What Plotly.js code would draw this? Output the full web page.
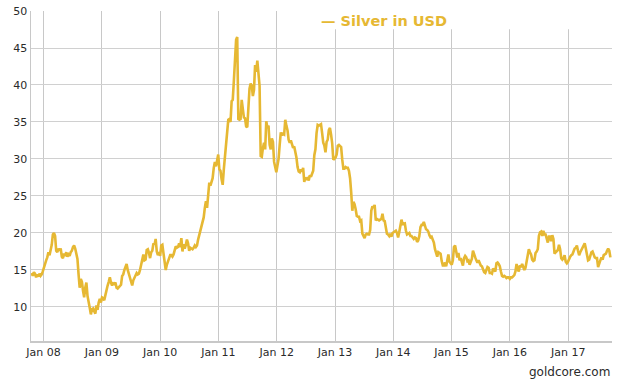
<!DOCTYPE html>
<html>
<head>
<meta charset="utf-8">
<script src="https://cdn.plot.ly/plotly-3.0.1.min.js"></script>
<style>html,body{margin:0;padding:0;background:#fff;}#chart{width:630px;height:388px;}</style>
</head>
<body>
<div id="chart"></div>
<script>
// Weekly silver price (USD/oz)
const dates2007 = ["10-19","10-26","11-02","11-09","11-16","11-23","11-30","12-07","12-14","12-21","12-28"];
const silver2007 = [14.6,14.2,14.7,14.5,14.0,14.4,14.1,14.5,14.2,14.4,14.8];

const dates2008 = ["01-04","01-11","01-18","01-25","02-01","02-08","02-15","02-22","02-29","03-07","03-14","03-21","03-28",
  "04-04","04-11","04-18","04-25","05-02","05-09","05-16","05-23","05-30","06-06","06-13","06-20","06-27",
  "07-04","07-11","07-18","07-25","08-01","08-08","08-15","08-22","08-29","09-05","09-12","09-19","09-26",
  "10-03","10-10","10-17","10-24","10-31","11-07","11-14","11-21","11-28","12-05","12-12","12-19","12-26"];
const silver2008 = [15.4,16.0,16.3,16.7, 17.4,17.0,17.6,18.4,19.8, 20.0,19.6,17.6,17.4,
  17.9,17.6,17.9,16.8, 16.6,17.2,16.9,17.4,16.8, 17.1,16.9,17.4,17.6,
  18.1,18.3,17.9,17.2, 16.5,14.4,12.6,13.8,13.4, 12.2,11.3,12.6,13.3,
  11.5,10.3,9.9,9.0,9.7, 9.8,9.3,9.1,10.2, 9.6,10.6,11.1,10.6];

const dates2009 = ["01-02","01-09","01-16","01-23","01-30","02-06","02-13","02-20","02-27","03-06","03-13","03-20","03-27",
  "04-03","04-10","04-17","04-24","05-01","05-08","05-15","05-22","05-29","06-05","06-12","06-19","06-26",
  "07-03","07-10","07-17","07-24","07-31","08-07","08-14","08-21","08-28","09-04","09-11","09-18","09-25",
  "10-02","10-09","10-16","10-23","10-30","11-06","11-13","11-20","11-27","12-04","12-11","12-18","12-25"];
const silver2009 = [11.3,11.2,10.9,11.6,12.5, 12.9,13.4,14.0,13.3, 12.9,13.2,13.1,13.3,
  12.6,12.5,12.7,12.9, 13.0,14.2,14.4,15.0,15.6, 15.8,15.0,14.5,14.0,
  13.7,12.9,13.6,13.9,14.1, 14.6,14.4,14.5,15.0, 15.9,16.6,17.1,16.3,
  16.4,17.7,17.8,17.3,16.6, 17.4,17.6,18.6,18.4, 19.2,17.5,17.0,17.4];

const dates2010 = ["01-01","01-08","01-15","01-22","01-29","02-05","02-12","02-19","02-26","03-05","03-12","03-19","03-26",
  "04-02","04-09","04-16","04-23","04-30","05-07","05-14","05-21","05-28","06-04","06-11","06-18","06-25",
  "07-02","07-09","07-16","07-23","07-30","08-06","08-13","08-20","08-27","09-03","09-10","09-17","09-24",
  "10-01","10-08","10-15","10-22","10-29","11-05","11-12","11-19","11-26","12-03","12-10","12-17","12-24","12-31"];
const silver2010 = [16.9,18.3,18.4,17.2,16.2, 15.0,15.7,16.1,16.5, 17.0,17.0,16.8,17.1,
  17.8,18.2,18.0,18.1,18.6, 18.1,19.3,17.5,18.5, 17.9,18.4,19.1,18.6,
  17.6,18.0,17.9,17.8,18.0, 18.3,18.1,18.3,19.1, 19.7,19.9,20.7,21.5,
  22.1,23.4,24.3,23.4,24.7, 26.8,26.4,27.0,27.4, 28.8,29.6,29.0,29.6,30.6];

const dates2011 = ["01-07","01-14","01-21","01-28","02-04","02-11","02-18","02-25","03-04","03-11","03-18","03-25",
  "04-01","04-08","04-15","04-22","04-29","05-06","05-13","05-20","05-27","06-03","06-10","06-17","06-24",
  "07-01","07-08","07-15","07-22","07-29","08-05","08-12","08-19","08-26","09-02","09-09","09-16","09-23","09-30",
  "10-07","10-14","10-21","10-28","11-04","11-11","11-18","11-25","12-02","12-09","12-16","12-23","12-30"];
const silver2011 = [28.6,28.4,27.3,26.5, 28.6,30.3,32.4,33.0, 35.3,35.4,35.0,37.8,
  38.0,40.6,42.8,46.1,46.5, 35.4,35.3,35.4,38.0, 36.5,35.6,35.5,34.4,
  34.3,36.7,39.5,40.2,39.9, 38.5,39.3,42.7,41.8, 43.3,40.9,39.9,30.4,30.3,
  31.5,32.2,31.3,35.1, 34.2,34.5,31.9,31.3, 32.8,32.3,29.6,29.0,28.2];

const dates2012 = ["01-06","01-13","01-20","01-27","02-03","02-10","02-17","02-24","03-02","03-09","03-16","03-23","03-30",
  "04-06","04-13","04-20","04-27","05-04","05-11","05-18","05-25","06-01","06-08","06-15","06-22","06-29",
  "07-06","07-13","07-20","07-27","08-03","08-10","08-17","08-24","08-31","09-07","09-14","09-21","09-28",
  "10-05","10-12","10-19","10-26","11-02","11-09","11-16","11-23","11-30","12-07","12-14","12-21","12-28"];
const silver2012 = [29.1,30.0,31.9,33.6, 33.2,33.4,33.3,35.3, 34.5,33.9,32.6,32.2,32.5,
  31.9,31.5,31.7,31.1, 30.2,28.9,28.3,28.2, 28.6,28.3,28.8,26.9,27.5,
  27.3,27.4,27.1,27.8, 27.6,28.0,28.4,30.5,31.3, 33.5,34.6,34.5,34.6,
  34.7,33.5,32.2,31.8, 30.9,32.3,32.6,33.9,34.2, 33.3,32.1,29.9,30.0];

const dates2013 = ["01-04","01-11","01-18","01-25","02-01","02-08","02-15","02-22","03-01","03-08","03-15","03-22","03-29",
  "04-05","04-12","04-19","04-26","05-03","05-10","05-17","05-24","05-31","06-07","06-14","06-21","06-28",
  "07-05","07-12","07-19","07-26","08-02","08-09","08-16","08-23","08-30","09-06","09-13","09-20","09-27",
  "10-04","10-11","10-18","10-25","11-01","11-08","11-15","11-22","11-29","12-06","12-13","12-20","12-27"];
const silver2013 = [30.2,30.6,31.8,31.9, 31.7,31.6,29.9,28.7, 28.7,28.9,28.8,28.8,28.4,
  27.4,25.5,23.0,24.2, 23.9,23.2,22.3,22.2,22.2, 21.6,21.7,19.9,19.6,
  19.3,19.8,19.9,19.8, 19.8,20.4,23.0,23.6,23.4, 23.8,21.7,21.9,21.8,
  21.7,21.8,21.9,22.6, 21.7,21.6,20.6,19.9,19.8, 19.6,19.9,19.5,20.0];

const dates2014 = ["01-03","01-10","01-17","01-24","01-31","02-07","02-14","02-21","02-28","03-07","03-14","03-21","03-28",
  "04-04","04-11","04-18","04-25","05-02","05-09","05-16","05-23","05-30","06-06","06-13","06-20","06-27",
  "07-04","07-11","07-18","07-25","08-01","08-08","08-15","08-22","08-29","09-05","09-12","09-19","09-26",
  "10-03","10-10","10-17","10-24","10-31","11-07","11-14","11-21","11-28","12-05","12-12","12-19","12-26"];
const silver2014 = [20.1,20.3,20.3,20.0,19.4, 20.1,21.3,21.8,21.2, 21.2,21.3,20.3,19.8,
  19.9,20.0,19.6,19.6, 19.4,19.2,19.4,19.3,18.8, 19.0,19.6,20.8,21.1,
  21.1,21.5,20.8,20.5, 20.4,20.2,19.7,19.4,19.5, 19.2,18.7,17.8,17.3,
  16.8,17.4,17.3,17.2,16.2, 15.6,15.6,16.0,15.5, 16.4,17.1,16.1,15.8];

const dates2015 = ["01-02","01-09","01-16","01-23","01-30","02-06","02-13","02-20","02-27","03-06","03-13","03-20","03-27",
  "04-03","04-10","04-17","04-24","05-01","05-08","05-15","05-22","05-29","06-05","06-12","06-19","06-26",
  "07-03","07-10","07-17","07-24","07-31","08-07","08-14","08-21","08-28","09-04","09-11","09-18","09-25",
  "10-02","10-09","10-16","10-23","10-30","11-06","11-13","11-20","11-27","12-04","12-11","12-18","12-25"];
const silver2015 = [15.7,16.3,18.1,18.3,17.2, 16.7,17.3,16.3,16.6, 16.0,15.6,16.6,16.9,
  16.7,16.2,16.3,15.7, 16.1,16.5,17.6,17.0,16.7, 16.3,16.0,16.3,15.9,
  15.6,15.5,14.9,14.7,14.6, 14.9,15.4,15.3,14.6, 14.6,14.5,15.2,15.0,
  14.8,15.9,16.0,15.8,15.5, 14.8,14.2,14.1,14.2, 14.1,13.9,14.0,14.0];

const dates2016 = ["01-01","01-08","01-15","01-22","01-29","02-05","02-12","02-19","02-26","03-04","03-11","03-18","03-25",
  "04-01","04-08","04-15","04-22","04-29","05-06","05-13","05-20","05-27","06-03","06-10","06-17","06-24",
  "07-01","07-08","07-15","07-22","07-29","08-05","08-12","08-19","08-26","09-02","09-09","09-16","09-23","09-30",
  "10-07","10-14","10-21","10-28","11-04","11-11","11-18","11-25","12-02","12-09","12-16","12-23","12-30"];
const silver2016 = [13.8,14.0,14.0,14.1,14.3, 14.8,15.8,15.2,14.8, 15.6,15.4,15.8,15.2,
  15.0,15.3,16.2,17.0,17.8, 17.4,17.1,16.4,16.2, 16.3,17.3,17.5,17.8,
  19.6,20.1,20.2,19.6,20.3, 19.8,19.8,19.1,18.7, 19.5,19.5,18.9,19.7,19.2,
  17.2,17.4,17.5,17.7, 18.4,17.8,16.6,16.4, 16.6,17.0,16.1,15.9,16.1];

const dates2017 = ["01-06","01-13","01-20","01-27","02-03","02-10","02-17","02-24","03-03","03-10","03-17","03-24","03-31",
  "04-07","04-14","04-21","04-28","05-05","05-12","05-19","05-26","06-02","06-09","06-16","06-23","06-30",
  "07-07","07-14","07-21","07-28","08-04","08-11","08-18","08-25","09-01","09-08","09-15","09-22"];
const silver2017 = [16.5,16.8,17.0,17.1, 17.5,17.9,18.0,18.3, 17.6,17.0,17.4,17.7,18.2,
  18.4,18.6,17.9,17.2, 16.3,16.4,16.9,17.4, 17.5,17.1,16.7,16.6,16.6,
  15.4,16.0,16.3,16.7, 16.4,17.0,17.1,17.2, 17.6,17.9,17.6,16.7];

const years = [2007,2008,2009,2010,2011,2012,2013,2014,2015,2016,2017];
const dateSets = [dates2007,dates2008,dates2009,dates2010,dates2011,dates2012,dates2013,dates2014,dates2015,dates2016,dates2017];
const valueSets = [silver2007,silver2008,silver2009,silver2010,silver2011,silver2012,silver2013,silver2014,silver2015,silver2016,silver2017];

const xTickVals = ["2008-01-01","2009-01-01","2010-01-01","2011-01-01","2012-01-01","2013-01-01","2014-01-01","2015-01-01","2016-01-01","2017-01-01"];
const xTickText = ["Jan 08","Jan 09","Jan 10","Jan 11","Jan 12","Jan 13","Jan 14","Jan 15","Jan 16","Jan 17"];
const yTickVals = [10,15,20,25,30,35,40,45,50];
const seriesName = "Silver in USD";

const x = [], y = [];
years.forEach((yr, i) => {
  const d = dateSets[i], v = valueSets[i];
  if (d.length !== v.length) console.error("length mismatch", yr, d.length, v.length);
  for (let k = 0; k < Math.min(d.length, v.length); k++) { x.push(yr + "-" + d[k]); y.push(v[k]); }
});

const gold = "#e6b833";
const font = "DejaVu Sans, Verdana, sans-serif";

Plotly.newPlot("chart", [{
  type: "scatter", mode: "lines", name: seriesName, x: x, y: y,
  line: {color: gold, width: 2.6}, hoverinfo: "x+y"
}], {
  width: 630, height: 388,
  margin: {l: 31, r: 18, t: 11, b: 47, pad: 0},
  paper_bgcolor: "#ffffff", plot_bgcolor: "#ffffff",
  showlegend: false,
  xaxis: {
    type: "date", range: ["2007-10-15", "2017-10-02"],
    tickmode: "array", tickvals: xTickVals, ticktext: xTickText,
    showgrid: true, gridcolor: "#c8c8c8", gridwidth: 1,
    showline: true, linecolor: "#c8c8c8", linewidth: 1.5,
    ticks: "", zeroline: false,
    tickfont: {family: font, size: 11, color: "#2a2a2a"}
  },
  yaxis: {
    range: [5.4, 50], tickmode: "array", tickvals: yTickVals,
    showgrid: true, gridcolor: "#d0d0d0", gridwidth: 1,
    showline: true, linecolor: "#c8c8c8", linewidth: 1.5,
    ticks: "", zeroline: false,
    tickfont: {family: font, size: 11, color: "#2a2a2a"}
  },
  shapes: [{
    type: "rect", xref: "paper", yref: "paper",
    x0: 0.496, x1: 0.994, y0: 0.945, y1: 1.05,
    fillcolor: "#ffffff", line: {width: 0}, layer: "above"
  }],
  annotations: [
    {xref: "paper", yref: "paper", x: 0.496, y: 0.97, xanchor: "left", yanchor: "middle",
     text: "<b>— " + seriesName + "</b>", showarrow: false,
     font: {family: font, size: 14.5, color: gold}},
    {xref: "paper", yref: "paper", x: 1.0, y: -0.094, xanchor: "right", yanchor: "middle",
     text: "goldcore.com", showarrow: false,
     font: {family: font, size: 12, color: "#2a2a2a"}}
  ]
}, {displayModeBar: false, staticPlot: true});
</script>
</body>
</html>
